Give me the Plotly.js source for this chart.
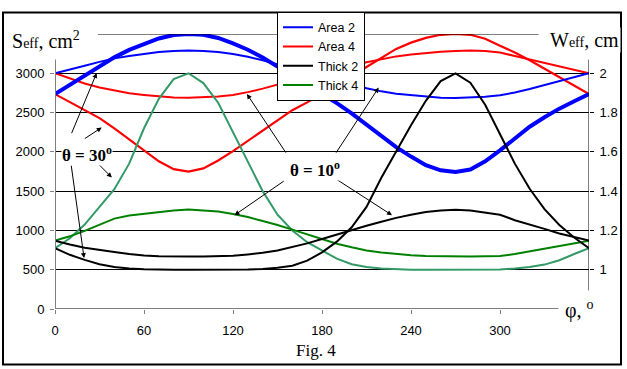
<!DOCTYPE html>
<html><head><meta charset="utf-8">
<script src="https://cdn.plot.ly/plotly-3.0.1.min.js"></script>
<style>html,body{margin:0;padding:0;background:#fff}#chart{width:627px;height:369px}</style>
</head><body><div id="chart"></div>
<script>
// angle phi, degrees
const phi = [0,10,20,30,40,50,60,70,80,90,100,110,120,130,140,150,160,170,180,190,200,210,220,230,240,250,260,270,280,290,300,310,320,330,340,350,360];
// Effective area S_eff, cm^2 (left axis)
const area2_t30 = [2735,2855,2971,3091,3203,3298,3372,3443,3488,3500,3490,3450,3380,3300,3200,3090,2970,2850,2735,2620,2490,2350,2200,2060,1940,1830,1765,1745,1775,1880,2020,2170,2320,2440,2550,2645,2735];
const area2_t10 = [3000,3045,3095,3145,3190,3220,3245,3270,3285,3290,3285,3270,3245,3210,3165,3110,3060,3015,2975,2920,2860,2810,2770,2740,2720,2700,2688,2685,2688,2700,2720,2755,2800,2850,2905,2955,3000];
const area4_t30 = [2735,2632,2532,2429,2300,2160,2015,1880,1780,1748,1790,1890,2010,2140,2280,2410,2530,2630,2735,2850,2955,3080,3200,3310,3390,3450,3490,3500,3490,3440,3350,3265,3165,3060,2950,2840,2735];
const area4_t10 = [3000,2930,2870,2820,2780,2745,2725,2705,2692,2688,2692,2705,2725,2760,2805,2855,2910,2960,3000,3050,3100,3140,3180,3215,3240,3260,3275,3285,3290,3285,3265,3220,3175,3130,3090,3045,3000];
// Effective thickness W_eff, cm (right axis)
const thick2_t30 = [1.11,1.076,1.05,1.028,1.014,1.006,1.002,1.0,1.0,1.0,1.0,1.0,1.0,1.001,1.004,1.01,1.02,1.046,1.088,1.143,1.216,1.32,1.468,1.604,1.736,1.86,1.96,2.0,1.952,1.84,1.692,1.54,1.412,1.308,1.228,1.164,1.11];
const thick2_t10 = [1.148,1.128,1.112,1.10,1.09,1.08,1.072,1.069,1.067,1.067,1.067,1.068,1.071,1.078,1.086,1.098,1.116,1.134,1.156,1.18,1.202,1.224,1.244,1.264,1.28,1.294,1.302,1.305,1.302,1.292,1.28,1.252,1.228,1.208,1.184,1.166,1.148];
const thick4_t30 = [1.11,1.16,1.23,1.32,1.41,1.54,1.72,1.87,1.97,2.0,1.95,1.85,1.70,1.55,1.40,1.28,1.20,1.14,1.10,1.056,1.028,1.014,1.006,1.002,1.0,1.0,1.0,1.0,1.0,1.0,1.001,1.006,1.014,1.026,1.048,1.08,1.11];
const thick4_t10 = [1.148,1.17,1.198,1.23,1.26,1.276,1.284,1.294,1.302,1.306,1.302,1.296,1.284,1.268,1.248,1.228,1.204,1.18,1.154,1.132,1.114,1.098,1.088,1.08,1.074,1.07,1.068,1.067,1.067,1.068,1.07,1.08,1.094,1.108,1.122,1.136,1.148];

const xTicks = [0,60,120,180,240,300];
const yTicks = [0,500,1000,1500,2000,2500,3000];
const y2Ticks = [1,1.2,1.4,1.6,1.8,2];
const y2Text = ['1','1.2','1.4','1.6','1.8','2'];

function tr(y, name, color, width, axis, show, rank){
  return {x: phi, y: y, name: name, type:'scatter', mode:'lines', yaxis: axis,
    line:{color:color, width:width}, showlegend: show, legendgroup: name, legendrank: rank, hoverinfo:'skip'};
}
const data = [
  tr(thick4_t30,'Thick 4','#339966',2,'y2',false,4),
  tr(thick4_t10,'Thick 4','#008000',2,'y2',true,4),
  tr(thick2_t30,'Thick 2','#000000',2,'y2',false,3),
  tr(thick2_t10,'Thick 2','#000000',2,'y2',true,3),
  tr(area4_t10,'Area 4','#FF0000',2,'y',true,2),
  tr(area4_t30,'Area 4','#FF0000',2.2,'y',false,2),
  tr(area2_t10,'Area 2','#0000FF',2,'y',true,1),
  tr(area2_t30,'Area 2','#0000FF',4,'y',false,1)
];

const serif = 'Liberation Serif, Times New Roman, serif';
const sans = 'Liberation Sans, Arial, sans-serif';
function arrow(hx,hy,tx,ty){
  return {x:hx,y:hy,ax:tx,ay:ty,xref:'x',yref:'y',axref:'x',ayref:'y',text:'',showarrow:true,
    arrowhead:2,arrowsize:1,arrowwidth:1,arrowcolor:'#000',standoff:0,startstandoff:0};
}
const annotations = [
  arrow(28.1,3004,10.8,2219),
  arrow(31.5,2310,19.1,2157),
  arrow(38.3,1674,28.1,1868),
  arrow(19.6,648,10.8,1847),
  arrow(129.4,2736,156.3,1971),
  arrow(218.2,2818,188.9,1971),
  arrow(121,1194,155.2,1640),
  arrow(227.2,1194,188.9,1661),
  {x:21.6,y:1971,xref:'x',yref:'y',text:'<b>θ = 30<sup>o</sup></b>',showarrow:false,
   font:{family:serif,size:17,color:'#000'},bgcolor:'#fff',borderpad:0},
  {x:175.4,y:1785,xref:'x',yref:'y',text:'<b>θ = 10<sup>o</sup></b>',showarrow:false,
   font:{family:serif,size:17,color:'#000'},bgcolor:'#fff',borderpad:0},
  {x:(10-55)/534,y:(309-33)/282,xref:'paper',yref:'paper',xanchor:'left',yanchor:'middle',showarrow:false,
   text:'S<span style="font-size:14px">eff</span>, cm<sup>2</sup>',font:{family:serif,size:20,color:'#000'},bgcolor:'#fff'},
  {x:(548-55)/534,y:(309-33)/282,xref:'paper',yref:'paper',xanchor:'left',yanchor:'middle',showarrow:false,
   text:'W<span style="font-size:14px">eff</span>, cm',font:{family:serif,size:20,color:'#000'},bgcolor:'#fff'},
  {x:(563-55)/534,y:(309-309)/282,xref:'paper',yref:'paper',xanchor:'left',yanchor:'middle',showarrow:false,
   text:'φ, <sup>o</sup>',font:{family:serif,size:20,color:'#000'}},
  {x:(316-55)/534,y:(309-352)/282,xref:'paper',yref:'paper',xanchor:'center',yanchor:'middle',showarrow:false,
   text:'Fig. 4',font:{family:serif,size:17,color:'#000'}}
];
const shapes = [
  // frame
  {type:'rect',xref:'paper',yref:'paper',x0:(3-55)/534,x1:(621-55)/534,y0:(309-366)/282,y1:(309-5)/282,
   line:{color:'#000',width:2},layer:'below'},
  // top grid line (3500)
  {type:'line',xref:'x',yref:'y',x0:29,x1:326,y0:3500,y1:3500,line:{color:'#000',width:1}},
  // left axis line
  {type:'line',xref:'x',yref:'y',x0:0,x1:0,y0:0,y1:3174,line:{color:'#808080',width:2}},
  // bottom axis line
  {type:'line',xref:'x',yref:'y',x0:0,x1:339.4,y0:0,y1:0,line:{color:'#808080',width:2}},
  // right axis line
  {type:'line',xref:'x',yref:'y',x0:360,x1:360,y0:236,y1:3174,line:{color:'#000',width:1}}
];
const layout = {
  width:627,height:369,margin:{l:55,r:38,t:27,b:60},
  paper_bgcolor:'#fff',plot_bgcolor:'#fff',
  font:{family:sans,size:13,color:'#000'},
  xaxis:{range:[0,360],tickvals:xTicks,ticks:'outside',ticklen:4,tickcolor:'#808080',tickwidth:1,
    showgrid:false,zeroline:false,showline:false,ticklabelstandoff:5,tickfont:{family:sans,size:13,color:'#000'}},
  yaxis:{range:[0,3500],tickvals:yTicks,ticks:'outside',ticklen:4,tickcolor:'#808080',tickwidth:1,
    showgrid:true,gridcolor:'#000',gridwidth:1,zeroline:false,showline:false,ticklabelstandoff:3,
    tickfont:{family:sans,size:13,color:'#000'}},
  yaxis2:{range:[0.8,2.2],overlaying:'y',side:'right',tickvals:y2Ticks,ticktext:y2Text,ticks:'outside',ticklen:4,
    tickcolor:'#000',tickwidth:1,showgrid:false,zeroline:false,showline:false,ticklabelstandoff:3,
    tickfont:{family:sans,size:13,color:'#000'}},
  showlegend:true,
  legend:{x:(277-55)/534,y:(309-4)/282,xanchor:'left',yanchor:'top',bgcolor:'#fff',bordercolor:'#000',borderwidth:1,
    font:{family:sans,size:12.5,color:'#000'},traceorder:'normal',tracegroupgap:0},
  annotations:annotations,shapes:shapes
};
Plotly.newPlot('chart',data,layout,{staticPlot:true,displayModeBar:false});
</script></body></html>
